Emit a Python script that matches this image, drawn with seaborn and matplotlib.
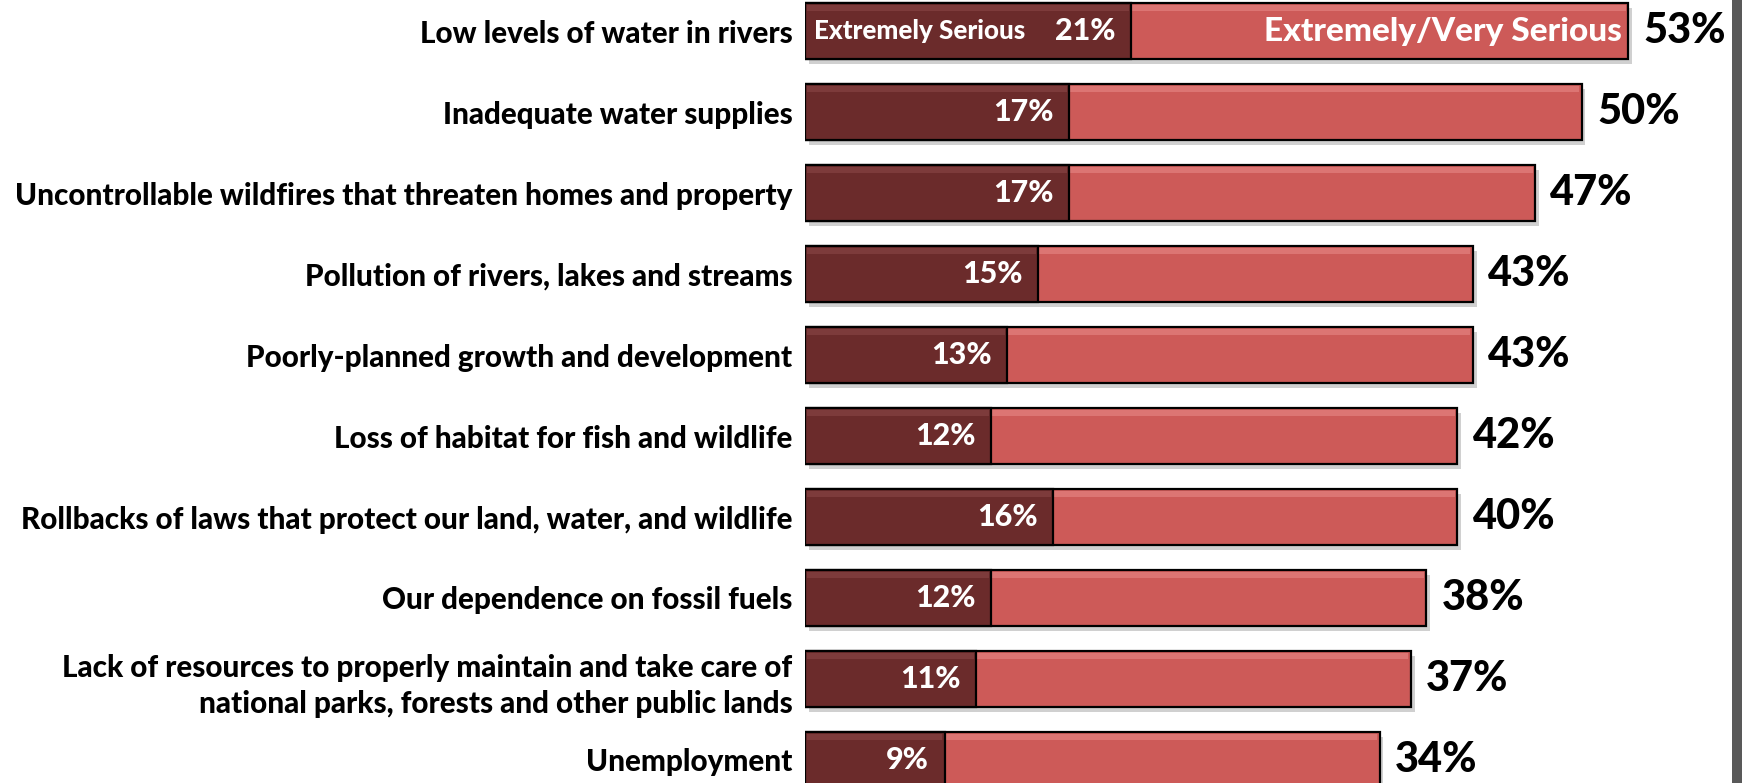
import matplotlib
matplotlib.use("Agg")
import matplotlib.pyplot as plt
from matplotlib.patches import Rectangle
import seaborn as sns

sns.set_theme(style="white")
plt.rcParams["font.family"] = ["Lato", "DejaVu Sans"]
plt.rcParams["font.weight"] = "bold"

# -----------------------------------------------------------------------------
# Donnees
# -----------------------------------------------------------------------------
issues = [
    "Low levels of water in rivers",
    "Inadequate water supplies",
    "Uncontrollable wildfires that threaten homes and property",
    "Pollution of rivers, lakes and streams",
    "Poorly-planned growth and development",
    "Loss of habitat for fish and wildlife",
    "Rollbacks of laws that protect our land, water, and wildlife",
    "Our dependence on fossil fuels",
    "Lack of resources to properly maintain and take care of\nnational parks, forests and other public lands",
    "Unemployment",
]
extremely = [21, 17, 17, 15, 13, 12, 16, 12, 11, 9]
# longueur des barres telle que dessinee, et etiquette affichee
bar_total = [53, 50, 47, 43, 43, 42, 42, 40, 39, 37]
total_label = [53, 50, 47, 43, 43, 42, 40, 38, 37, 34]

dark = "#6b2b2b"
light = "#cd5a58"
W = 900  # graisse du texte

fig = plt.figure(figsize=(17.42, 7.83), dpi=100)
ax = fig.add_axes([805 / 1742, 0, (1732 - 805) / 1742, 1])

sns.barplot(x=bar_total, y=issues, orient="y", color=light, width=0.69,
            edgecolor="black", linewidth=1.6, saturation=1, ax=ax, zorder=3)
sns.barplot(x=extremely, y=issues, orient="y", color=dark, width=0.69,
            edgecolor="black", linewidth=1.6, saturation=1, ax=ax, zorder=4)

# petit effet de relief : ombre portee et reflet en haut de chaque barre
for p in list(ax.patches):
    x0, y0, w, h = p.get_x(), p.get_y(), p.get_width(), p.get_height()
    z = p.get_zorder()
    if z == 3:
        ax.add_patch(Rectangle((x0 + 0.25, y0 + 0.06), w, h, color="#d0d0d0",
                               zorder=2, lw=0))
    top = "#dc7573" if z == 3 else "#7d3b3b"
    ax.add_patch(Rectangle((x0 + 0.15, y0 + 0.03), w - 0.3, h * 0.10,
                           color=top, zorder=z + 0.1, lw=0))

for i in range(len(issues)):
    ax.text(extremely[i] - 1.0, i, f"{extremely[i]}%", ha="right", va="center",
            color="white", fontsize=22, fontweight=W, zorder=6)
    ax.text(bar_total[i] + 1.0, i, f"{total_label[i]}%", ha="left", va="center",
            color="black", fontsize=30, fontweight=W, zorder=6)

ax.text(0.55, 0, "Extremely Serious", ha="left", va="center", color="white",
        fontsize=18.7, fontweight=W, zorder=6)
ax.text(bar_total[0] - 0.4, 0, "Extremely/Very Serious", ha="right",
        va="center", color="white", fontsize=24, fontweight=W, zorder=6)

ax.set_xlim(0, (1732 - 805) / 15.53)
ax.set_ylim(9 + 23 / 81, -31 / 81)
ax.set_xlabel("")
ax.set_ylabel("")
ax.set_xticks([])
ax.tick_params(axis="y", length=0, pad=9, labelsize=21.3, labelcolor="black")
for lab in ax.get_yticklabels():
    lab.set_fontweight(W)
    lab.set_linespacing(1.35)
sns.despine(ax=ax, left=True, bottom=True)

# bord gris a droite de la capture
fig.add_artist(Rectangle((1732 / 1742, 0), 10 / 1742, 1,
                         transform=fig.transFigure, color="#595959", lw=0))

fig.savefig("out.png", dpi=100, facecolor="white")
plt.close(fig)
